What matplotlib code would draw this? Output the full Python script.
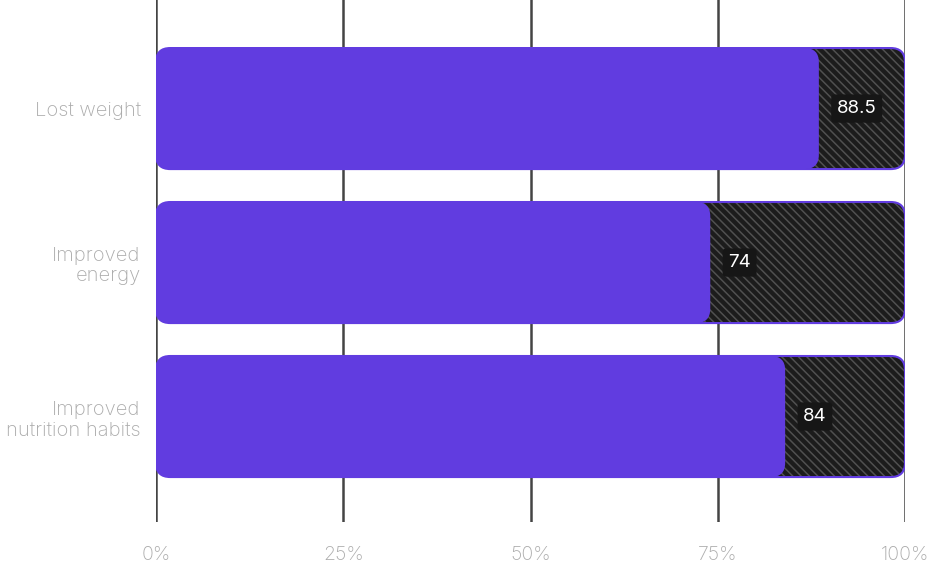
import matplotlib
matplotlib.use("Agg")
import matplotlib.pyplot as plt
from matplotlib.patches import FancyBboxPatch

plt.rcParams['font.family'] = ['Inter', 'DejaVu Sans']
plt.rcParams['font.weight'] = 'light'
plt.rcParams['hatch.linewidth'] = 1.1

categories = ['Lost weight', 'Improved\nenergy', 'Improved\nnutrition habits']
values = [88.5, 74, 84]
labels = ['88.5', '74', '84']
xticks = [0, 25, 50, 75, 100]
xticklabels = ['0%', '25%', '50%', '75%', '100%']

purple = '#613ce0'
dark = '#1c1c1c'
hatch_gray = '#505050'
text_gray = '#ababab'

fig = plt.figure(figsize=(9.32, 5.64), dpi=100)
ax = fig.add_axes([156 / 932, 42 / 564, 749 / 932, 522 / 564])

ax.set_xlim(0, 100)
ax.set_ylim(2.685, -0.705)

bar_h = 0.786
# x units per px vs y units per px, so corners come out round
aspect = (1 / 154) / (100 / 749)
rad = 1.9

for i, (v, lab) in enumerate(zip(values, labels)):
    y0 = i - bar_h / 2
    bg = FancyBboxPatch((0, y0), 100, bar_h,
                        boxstyle=f"round,pad=0,rounding_size={rad}",
                        mutation_aspect=aspect, facecolor=dark,
                        edgecolor=hatch_gray, hatch='\\\\\\\\', linewidth=0, zorder=2)
    ax.add_patch(bg)
    border = FancyBboxPatch((0, y0), 100, bar_h,
                            boxstyle=f"round,pad=0,rounding_size={rad}",
                            mutation_aspect=aspect, fill=False,
                            edgecolor=purple, linewidth=1.5, zorder=3)
    ax.add_patch(border)
    fg = FancyBboxPatch((0, y0), v, bar_h,
                        boxstyle=f"round,pad=0,rounding_size={rad}",
                        mutation_aspect=aspect, facecolor=purple,
                        edgecolor='none', zorder=4)
    ax.add_patch(fg)
    ax.text(v + 2.4, i, lab, ha='left', va='center', color='white',
            fontsize=13.5, fontweight='normal', zorder=5,
            bbox=dict(boxstyle='round,pad=0.3,rounding_size=0.2',
                      facecolor='#161616', edgecolor='none'))

ax.set_xticks(xticks)
ax.set_xticklabels(xticklabels)
ax.set_yticks(range(len(categories)))
ax.set_yticklabels(categories, ha='right', multialignment='right')
ax.tick_params(axis='x', length=0, pad=17, labelsize=14, labelcolor=text_gray)
ax.tick_params(axis='y', length=0, pad=11, labelsize=14.5, labelcolor=text_gray)

ax.grid(axis='x', color='#444444', linewidth=1.8, zorder=0)
ax.set_axisbelow(True)
for s in ax.spines.values():
    s.set_visible(False)

fig.savefig('out.png', dpi=100)
